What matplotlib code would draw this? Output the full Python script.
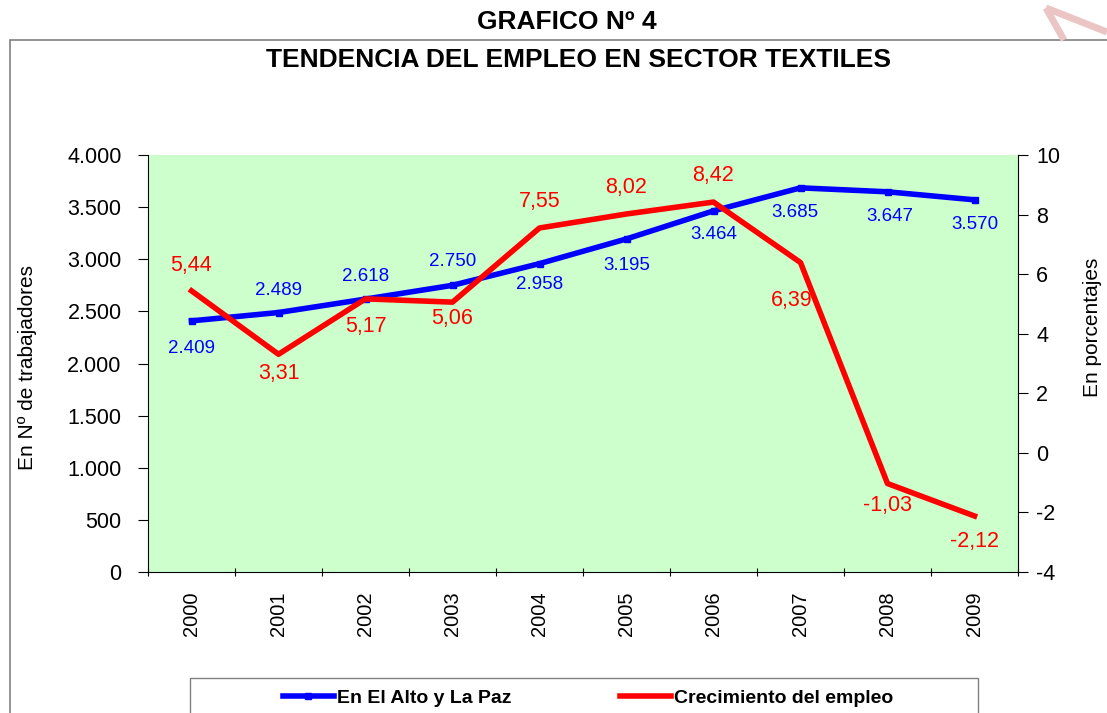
import matplotlib
matplotlib.use("Agg")
import matplotlib.pyplot as plt
from matplotlib.patches import Rectangle
from matplotlib.lines import Line2D

years = ["2000", "2001", "2002", "2003", "2004", "2005", "2006", "2007", "2008", "2009"]
empleo = [2409, 2489, 2618, 2750, 2958, 3195, 3464, 3685, 3647, 3570]
empleo_labels = ["2.409", "2.489", "2.618", "2.750", "2.958", "3.195", "3.464", "3.685", "3.647", "3.570"]
crecimiento = [5.44, 3.31, 5.17, 5.06, 7.55, 8.02, 8.42, 6.39, -1.03, -2.12]
crec_labels = ["5,44", "3,31", "5,17", "5,06", "7,55", "8,02", "8,42", "6,39", "-1,03", "-2,12"]
left_ticks = [0, 500, 1000, 1500, 2000, 2500, 3000, 3500, 4000]
left_tick_labels = ["0", "500", "1.000", "1.500", "2.000", "2.500", "3.000", "3.500", "4.000"]
right_ticks = [-4, -2, 0, 2, 4, 6, 8, 10]

plt.rcParams['font.family'] = ['Liberation Sans', 'DejaVu Sans']

fig = plt.figure(figsize=(11.07, 7.13), dpi=100)
W, H = 1107, 713

# outer border
fig.patches.append(Rectangle((10 / W, -0.1), 1.2, 1 - 40 / H + 0.1, transform=fig.transFigure,
                             fill=False, edgecolor="#808080", linewidth=1.2))

# faint watermark stroke at top right
fig.lines.append(Line2D([1046 / W, 1064 / W], [1 - 8 / H, 1 - 40 / H], transform=fig.transFigure,
                        color="#EBC4C4", linewidth=5, solid_capstyle="butt"))
fig.lines.append(Line2D([1046 / W, 1107 / W], [1 - 8 / H, 1 - 32 / H], transform=fig.transFigure,
                        color="#EBC4C4", linewidth=5, solid_capstyle="butt"))

ax = fig.add_axes([148 / W, 1 - 572 / H, (1018 - 148) / W, (572 - 155) / H])
ax.set_facecolor("#CCFFCC")
x = list(range(len(years)))
ax.plot(x, empleo, color="#0000FF", linewidth=4, marker="s", markersize=5, zorder=3)
ax.set_xlim(-0.5, len(years) - 0.5)
ax.set_ylim(0, 4000)
ax.set_yticks(left_ticks)
ax.set_yticklabels(left_tick_labels, fontsize=15.5)
ax.set_xticks([i - 0.5 for i in range(len(years) + 1)])
ax.set_xticklabels([])
ax.set_xticks(x, minor=True)
ax.set_xticklabels(years, minor=True, rotation=90, fontsize=14.5)
ax.tick_params(axis="x", which="minor", length=0, pad=14)
ax.tick_params(axis="x", which="major", length=6, direction="inout")
ax.tick_params(axis="y", length=7, direction="out", pad=12)
for s in ["top", "right"]:
    ax.spines[s].set_visible(False)

ax2 = ax.twinx()
ax2.plot(x, crecimiento, color="#FF0000", linewidth=4, zorder=3)
ax2.set_ylim(-4, 10)
ax2.set_yticks(right_ticks)
ax2.set_yticklabels([str(t) for t in right_ticks], fontsize=15.5)
ax2.tick_params(axis="y", length=7, direction="out", pad=6)
for s in ["top", "left", "bottom"]:
    ax2.spines[s].set_visible(False)

fig.text(28 / W, 1 - 368 / H, "En Nº de trabajadores", rotation=90, ha="center", va="center", fontsize=15)
fig.text(1093 / W, 1 - 327 / H, "En porcentajes", rotation=90, ha="center", va="center", fontsize=15)

# blue labels (offset in points)
blue_off = [(0, -20), (0, 16), (0, 16), (0, 17), (0, -15), (0, -19), (0, -17), (-4, -18), (2, -18), (0, -18)]
for i, (v, lab) in enumerate(zip(empleo, empleo_labels)):
    ax.annotate(lab, (i, v), xytext=blue_off[i], textcoords="offset points",
                ha="center", va="center", color="#0000FF", fontsize=13.5)

red_off = [(0, 18), (0, -14), (0, -20), (0, -12), (0, 19), (0, 19), (0, 19), (-6, -27), (0, -16), (0, -18)]
for i, (v, lab) in enumerate(zip(crecimiento, crec_labels)):
    ax2.annotate(lab, (i, v), xytext=red_off[i], textcoords="offset points",
                 ha="center", va="center", color="#FF0000", fontsize=15.5)

fig.text(567 / W, 1 - 22 / H, "GRAFICO Nº 4", ha="center", va="center", fontsize=19, fontweight="bold")
fig.text(578 / W, 1 - 60 / H, "TENDENCIA DEL EMPLEO EN SECTOR TEXTILES", ha="center", va="center",
         fontsize=19, fontweight="bold")

# legend box
fig.patches.append(Rectangle((190 / W, -0.05), (978 - 190) / W, (713 - 678) / H + 0.05,
                             transform=fig.transFigure, fill=False, edgecolor="#808080", linewidth=1))
h1 = Line2D([], [], color="#0000FF", linewidth=4, marker="s", markersize=4)
h2 = Line2D([], [], color="#FF0000", linewidth=4)
fig.legend([h1, h2], ["En El Alto y La Paz", "Crecimiento del empleo"], loc="center",
           bbox_to_anchor=(588 / W, 1 - 698 / H), ncol=2, frameon=False,
           prop={"weight": "bold", "size": 14}, handlelength=2.6, columnspacing=5.6, handletextpad=0.15)

fig.savefig("out.png", dpi=100)
